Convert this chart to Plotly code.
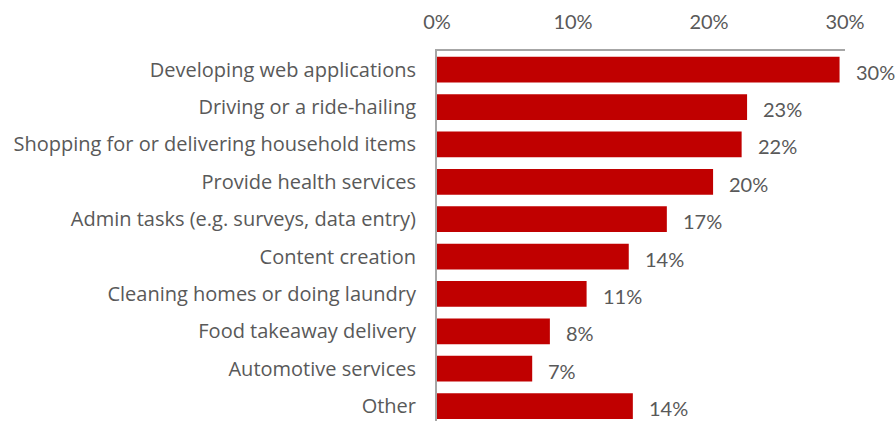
import plotly.graph_objects as go

# Share of respondents by type of gig work (percent)
categories = [
    "Developing web applications",
    "Driving or a ride-hailing",
    "Shopping for or delivering household items",
    "Provide health services",
    "Admin tasks (e.g. surveys, data entry)",
    "Content creation",
    "Cleaning homes or doing laundry",
    "Food takeaway delivery",
    "Automotive services",
    "Other",
]
values = [29.6, 22.8, 22.4, 20.3, 16.9, 14.1, 11.0, 8.3, 7.0, 14.4]
tick_values = [0, 10, 20, 30]
tick_labels = ["0%", "10%", "20%", "30%"]

BAR_RED = "#C00000"
TEXT_GREY = "#595959"
AXIS_GREY = "#A6A6A6"
NUM_FONT = "Lato"
CAT_FONT = "Open Sans"

fig = go.Figure()
fig.add_trace(
    go.Bar(
        x=values,
        y=categories,
        orientation="h",
        marker=dict(color=BAR_RED, line=dict(width=0)),
        hoverinfo="skip",
    )
)

# Value labels to the right of each bar
for cat, val in zip(categories, values):
    fig.add_annotation(
        x=val,
        y=cat,
        xref="x",
        yref="y",
        text=f"{val:.0f}%",
        showarrow=False,
        xanchor="left",
        yanchor="middle",
        xshift=14,
        yshift=-2,
        font=dict(family=NUM_FONT, size=20, color=TEXT_GREY),
    )

fig.update_layout(
    width=896,
    height=421,
    margin=dict(l=437, r=51, t=51, b=0, pad=0),
    paper_bgcolor="white",
    plot_bgcolor="white",
    bargap=0.31,
    showlegend=False,
    font=dict(family=NUM_FONT, size=19, color=TEXT_GREY),
)

fig.update_xaxes(
    side="top",
    range=[0, 30],
    tickvals=tick_values,
    ticktext=tick_labels,
    showgrid=False,
    zeroline=False,
    showline=True,
    linecolor=AXIS_GREY,
    linewidth=2,
    ticks="",
    ticklabelstandoff=12,
    tickfont=dict(family=NUM_FONT, size=20, color=TEXT_GREY),
)

fig.update_yaxes(
    categoryorder="array",
    categoryarray=categories,
    range=[9.4, -0.5],
    showgrid=False,
    zeroline=False,
    showline=True,
    linecolor=AXIS_GREY,
    linewidth=2,
    ticks="",
    ticklabelstandoff=15,
    tickfont=dict(family=CAT_FONT, size=20, color=TEXT_GREY),
)

fig.write_html("out.html")
